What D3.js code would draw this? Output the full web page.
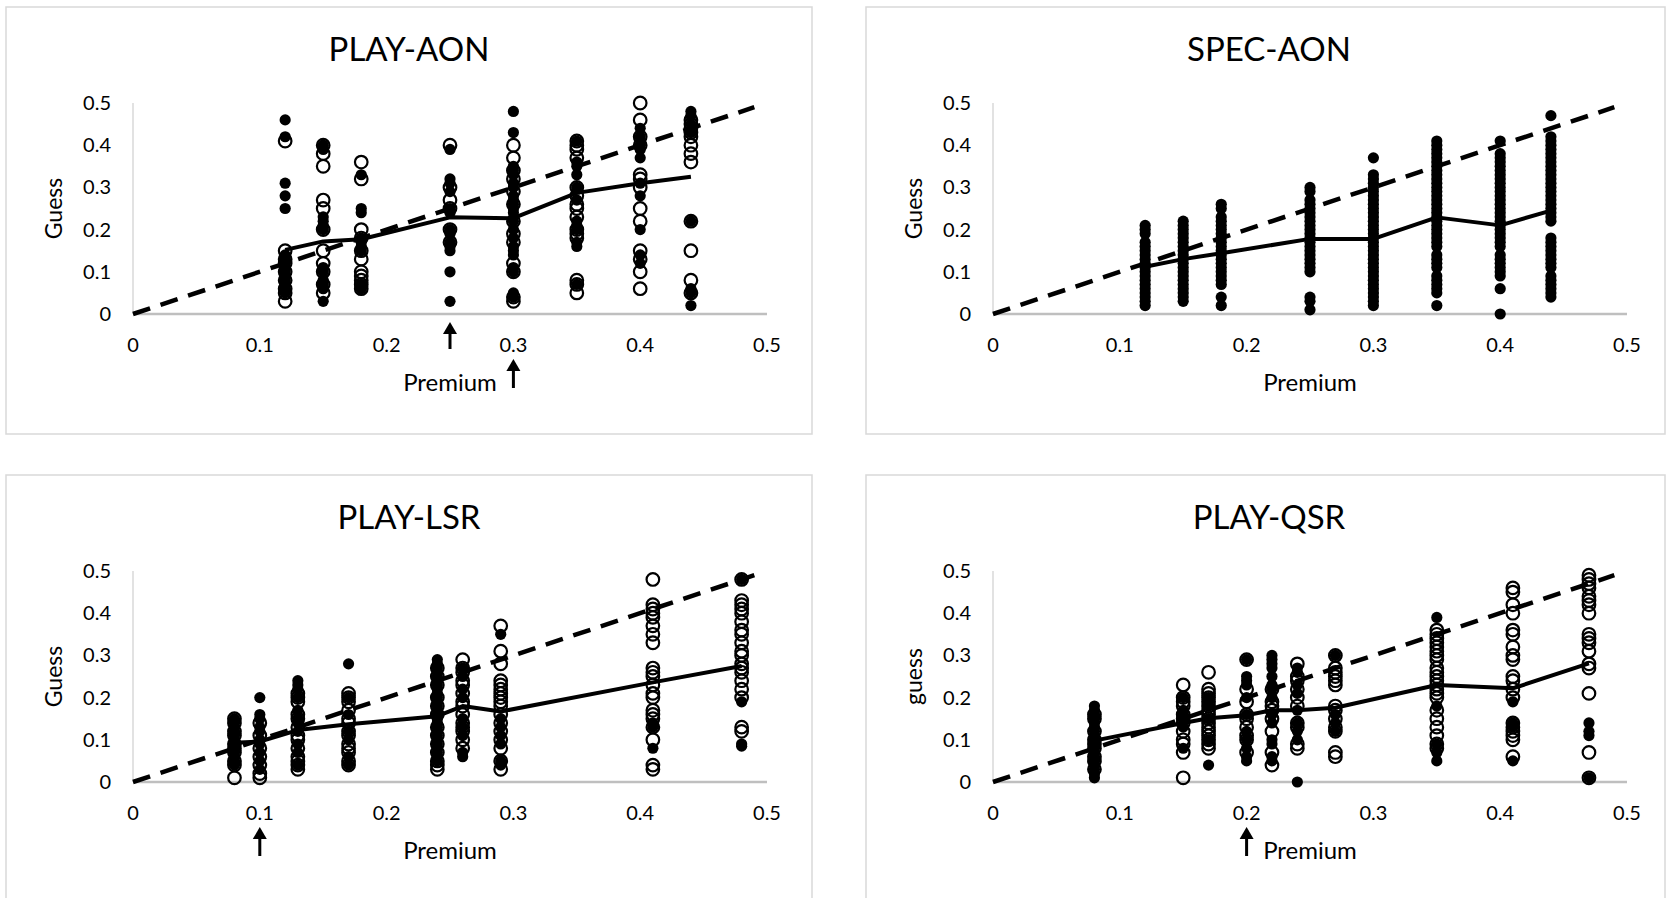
<!DOCTYPE html>
<html>
<head>
<meta charset="utf-8">
<script src="https://cdn.jsdelivr.net/npm/d3@7"></script>
<style>
  html, body { margin: 0; padding: 0; background: #fff; }
  svg { display: block; font-family: Lato, "Open Sans", sans-serif; }
</style>
</head>
<body>
<svg id="chart" width="1669" height="898"></svg>
<script>
// Guess vs premium, four treatments. Filled dots and open circles are the two
// subject groups, the solid line is the mean guess, the dashed line is guess = premium.

const xTicks = [0, 0.1, 0.2, 0.3, 0.4, 0.5];
const yTicks = [0, 0.1, 0.2, 0.3, 0.4, 0.5];
const diagonalEnd = 0.49;

// ----- PLAY-AON -----
const playAonPremiums = [0.12, 0.15, 0.18, 0.25, 0.30, 0.35, 0.40, 0.44];
const playAonFilled = [
  [0.46, 0.42, 0.31, 0.28, 0.25, 0.14, 0.13, 0.12, 0.11, 0.10, 0.09, 0.08, 0.07, 0.06, 0.05],
  [0.40, 0.39, 0.23, 0.22, 0.21, 0.20, 0.11, 0.10, 0.08, 0.07, 0.06, 0.03],
  [0.33, 0.25, 0.24, 0.18, 0.17, 0.16, 0.15, 0.07, 0.06],
  [0.39, 0.32, 0.31, 0.29, 0.25, 0.24, 0.20, 0.19, 0.17, 0.16, 0.15, 0.10, 0.03],
  [0.48, 0.43, 0.35, 0.34, 0.33, 0.31, 0.30, 0.28, 0.27, 0.26, 0.25, 0.24, 0.22, 0.20, 0.18, 0.16, 0.15, 0.14, 0.11, 0.10, 0.05, 0.04],
  [0.41, 0.36, 0.35, 0.33, 0.30, 0.27, 0.22, 0.21, 0.20, 0.17, 0.16, 0.07],
  [0.44, 0.42, 0.40, 0.39, 0.37, 0.31, 0.28, 0.20, 0.14, 0.12],
  [0.48, 0.47, 0.45, 0.43, 0.22, 0.06, 0.05, 0.02]
];
const playAonOpen = [
  [0.41, 0.15, 0.13, 0.12, 0.10, 0.08, 0.06, 0.05, 0.03],
  [0.40, 0.38, 0.35, 0.27, 0.25, 0.20, 0.15, 0.12, 0.10, 0.07, 0.05],
  [0.36, 0.32, 0.20, 0.18, 0.15, 0.13, 0.10, 0.09, 0.08, 0.07, 0.06],
  [0.40, 0.30, 0.27, 0.25, 0.20, 0.17],
  [0.40, 0.37, 0.34, 0.32, 0.29, 0.26, 0.22, 0.19, 0.17, 0.12, 0.10, 0.04, 0.03],
  [0.41, 0.40, 0.39, 0.37, 0.30, 0.28, 0.26, 0.25, 0.23, 0.20, 0.19, 0.18, 0.08, 0.07, 0.05],
  [0.50, 0.46, 0.42, 0.40, 0.33, 0.32, 0.30, 0.25, 0.22, 0.15, 0.13, 0.10, 0.06],
  [0.46, 0.45, 0.44, 0.43, 0.42, 0.40, 0.38, 0.36, 0.22, 0.15, 0.08, 0.05]
];
const playAonMeans = [0.152, 0.172, 0.177, 0.229, 0.227, 0.287, 0.31, 0.325];
const playAonArrows = [0.25, 0.30];

// ----- SPEC-AON (one group only) -----
const specAonPremiums = [0.12, 0.15, 0.18, 0.25, 0.30, 0.35, 0.40, 0.44];
const specAonFilled = [
  [0.21, 0.20, 0.19, 0.17, 0.16, 0.15, 0.14, 0.13, 0.12, 0.11, 0.10, 0.09, 0.08, 0.07, 0.06, 0.05, 0.04, 0.03, 0.02],
  [0.22, 0.21, 0.20, 0.19, 0.18, 0.17, 0.16, 0.15, 0.14, 0.13, 0.12, 0.11, 0.10, 0.09, 0.08, 0.07, 0.06, 0.05, 0.04, 0.03],
  [0.26, 0.25, 0.23, 0.22, 0.21, 0.20, 0.19, 0.18, 0.17, 0.16, 0.15, 0.14, 0.13, 0.12, 0.11, 0.10, 0.09, 0.08, 0.07, 0.04, 0.02],
  [0.30, 0.29, 0.27, 0.26, 0.25, 0.24, 0.23, 0.22, 0.21, 0.20, 0.19, 0.18, 0.17, 0.16, 0.15, 0.14, 0.13, 0.12, 0.11, 0.10, 0.04, 0.03, 0.01],
  [0.37, 0.33, 0.32, 0.31, 0.30, 0.29, 0.28, 0.27, 0.26, 0.25, 0.24, 0.23, 0.22, 0.21, 0.20, 0.19, 0.18, 0.17, 0.16, 0.15, 0.14, 0.13, 0.12, 0.11, 0.10, 0.09, 0.08, 0.07, 0.06, 0.05, 0.04, 0.03, 0.02],
  [0.41, 0.40, 0.39, 0.38, 0.37, 0.36, 0.35, 0.34, 0.33, 0.32, 0.31, 0.30, 0.29, 0.28, 0.27, 0.26, 0.25, 0.24, 0.23, 0.22, 0.21, 0.20, 0.19, 0.18, 0.17, 0.16, 0.14, 0.13, 0.12, 0.11, 0.09, 0.08, 0.07, 0.06, 0.05, 0.02],
  [0.41, 0.38, 0.37, 0.36, 0.35, 0.34, 0.33, 0.32, 0.31, 0.30, 0.29, 0.28, 0.27, 0.26, 0.25, 0.24, 0.23, 0.22, 0.21, 0.20, 0.19, 0.18, 0.17, 0.16, 0.14, 0.13, 0.12, 0.11, 0.10, 0.09, 0.06, 0.00],
  [0.47, 0.42, 0.41, 0.40, 0.39, 0.38, 0.37, 0.36, 0.35, 0.34, 0.33, 0.32, 0.31, 0.30, 0.29, 0.28, 0.27, 0.26, 0.25, 0.24, 0.23, 0.22, 0.18, 0.17, 0.16, 0.15, 0.14, 0.13, 0.12, 0.11, 0.09, 0.08, 0.07, 0.06, 0.05, 0.04]
];
const specAonOpen = [];
const specAonMeans = [0.112, 0.13, 0.144, 0.178, 0.178, 0.229, 0.21, 0.245];
const specAonArrows = [];

// ----- PLAY-LSR -----
const playLsrPremiums = [0.08, 0.10, 0.13, 0.17, 0.24, 0.26, 0.29, 0.41, 0.48];
const playLsrFilled = [
  [0.15, 0.14, 0.13, 0.12, 0.11, 0.10, 0.09, 0.08, 0.07, 0.06, 0.05, 0.04],
  [0.20, 0.16, 0.15, 0.13, 0.12, 0.10, 0.09, 0.07, 0.05, 0.03],
  [0.24, 0.23, 0.22, 0.20, 0.17, 0.15, 0.14, 0.12, 0.09, 0.07, 0.04],
  [0.28, 0.20, 0.16, 0.12, 0.10, 0.06, 0.04],
  [0.29, 0.28, 0.27, 0.26, 0.25, 0.24, 0.23, 0.22, 0.21, 0.20, 0.19, 0.18, 0.17, 0.16, 0.15, 0.14, 0.13, 0.12, 0.11, 0.10, 0.09, 0.08, 0.07, 0.06, 0.05],
  [0.27, 0.25, 0.22, 0.20, 0.15, 0.13, 0.11, 0.07, 0.06],
  [0.35, 0.15, 0.13, 0.11, 0.09, 0.05, 0.04],
  [0.14, 0.13, 0.08],
  [0.48, 0.19, 0.09, 0.085]
];
const playLsrOpen = [
  [0.15, 0.14, 0.12, 0.11, 0.09, 0.08, 0.07, 0.05, 0.04, 0.01],
  [0.14, 0.11, 0.08, 0.06, 0.04, 0.02, 0.01],
  [0.21, 0.20, 0.19, 0.16, 0.15, 0.13, 0.11, 0.10, 0.08, 0.06, 0.05, 0.04, 0.03],
  [0.21, 0.20, 0.19, 0.17, 0.15, 0.14, 0.12, 0.11, 0.09, 0.08, 0.07, 0.05, 0.04],
  [0.27, 0.25, 0.23, 0.20, 0.18, 0.16, 0.13, 0.11, 0.09, 0.07, 0.05, 0.04, 0.03],
  [0.29, 0.27, 0.26, 0.24, 0.23, 0.21, 0.19, 0.18, 0.16, 0.14, 0.13, 0.12, 0.10, 0.08],
  [0.37, 0.31, 0.28, 0.24, 0.23, 0.22, 0.21, 0.20, 0.19, 0.18, 0.16, 0.14, 0.12, 0.10, 0.08, 0.05, 0.03],
  [0.48, 0.42, 0.41, 0.40, 0.39, 0.37, 0.35, 0.33, 0.27, 0.26, 0.25, 0.23, 0.21, 0.20, 0.17, 0.16, 0.15, 0.13, 0.10, 0.04, 0.03],
  [0.48, 0.43, 0.42, 0.41, 0.40, 0.38, 0.36, 0.35, 0.33, 0.31, 0.30, 0.28, 0.27, 0.26, 0.24, 0.22, 0.20, 0.13, 0.12]
];
const playLsrMeans = [0.093, 0.096, 0.123, 0.137, 0.156, 0.18, 0.167, 0.236, 0.275];
const playLsrArrows = [0.10];

// ----- PLAY-QSR -----
const playQsrPremiums = [0.08, 0.15, 0.17, 0.20, 0.22, 0.24, 0.27, 0.35, 0.41, 0.47];
const playQsrFilled = [
  [0.18, 0.17, 0.16, 0.15, 0.14, 0.13, 0.12, 0.11, 0.10, 0.09, 0.08, 0.07, 0.06, 0.05, 0.04, 0.03, 0.02, 0.01],
  [0.20, 0.17, 0.16, 0.15, 0.13, 0.08],
  [0.20, 0.18, 0.15, 0.10, 0.04],
  [0.29, 0.25, 0.24, 0.23, 0.20, 0.16, 0.12, 0.10, 0.08, 0.06, 0.05],
  [0.30, 0.29, 0.28, 0.27, 0.25, 0.23, 0.22, 0.20, 0.16, 0.14, 0.10, 0.09, 0.06, 0.05],
  [0.27, 0.26, 0.23, 0.21, 0.17, 0.14, 0.12, 0.10, 0.00],
  [0.30, 0.16, 0.14, 0.12],
  [0.39, 0.18, 0.09, 0.07, 0.05],
  [0.19, 0.14, 0.13, 0.05],
  [0.14, 0.12, 0.11, 0.01]
];
const playQsrOpen = [
  [0.16, 0.15, 0.12, 0.10, 0.09, 0.08, 0.06, 0.05, 0.03],
  [0.23, 0.20, 0.19, 0.18, 0.16, 0.15, 0.14, 0.12, 0.10, 0.09, 0.07, 0.01],
  [0.26, 0.22, 0.21, 0.20, 0.19, 0.18, 0.17, 0.16, 0.15, 0.14, 0.13, 0.12, 0.11, 0.10, 0.09, 0.08],
  [0.29, 0.22, 0.19, 0.16, 0.15, 0.13, 0.11, 0.10, 0.07],
  [0.22, 0.19, 0.18, 0.17, 0.15, 0.12, 0.07, 0.04],
  [0.28, 0.25, 0.24, 0.22, 0.20, 0.18, 0.14, 0.13, 0.09, 0.08],
  [0.30, 0.27, 0.26, 0.25, 0.24, 0.23, 0.18, 0.17, 0.15, 0.13, 0.12, 0.07, 0.06],
  [0.36, 0.35, 0.34, 0.33, 0.32, 0.31, 0.30, 0.29, 0.27, 0.26, 0.25, 0.24, 0.23, 0.22, 0.21, 0.20, 0.17, 0.15, 0.13, 0.11, 0.09, 0.08],
  [0.46, 0.45, 0.42, 0.40, 0.36, 0.35, 0.32, 0.30, 0.29, 0.25, 0.24, 0.22, 0.20, 0.14, 0.13, 0.12, 0.11, 0.10, 0.06],
  [0.49, 0.48, 0.47, 0.46, 0.44, 0.43, 0.42, 0.40, 0.35, 0.34, 0.33, 0.31, 0.28, 0.27, 0.21, 0.07, 0.01]
];
const playQsrMeans = [0.098, 0.14, 0.151, 0.158, 0.17, 0.17, 0.176, 0.23, 0.222, 0.281];
const playQsrArrows = [0.20];

// Panel layout: left edge of x=0 and top of y=0.5 for each panel.
const PLOT_W = 634, PLOT_H = 211;
const panels = [
  { title: 'PLAY-AON', yLabel: 'Guess', ox: 133, oy: 103, boxW: 806, premiums: playAonPremiums, filled: playAonFilled, open: playAonOpen, means: playAonMeans, arrows: playAonArrows },
  { title: 'SPEC-AON', yLabel: 'Guess', ox: 993, oy: 103, boxW: 799, premiums: specAonPremiums, filled: specAonFilled, open: specAonOpen, means: specAonMeans, arrows: specAonArrows },
  { title: 'PLAY-LSR', yLabel: 'Guess', ox: 133, oy: 571, boxW: 806, premiums: playLsrPremiums, filled: playLsrFilled, open: playLsrOpen, means: playLsrMeans, arrows: playLsrArrows },
  { title: 'PLAY-QSR', yLabel: 'guess', ox: 993, oy: 571, boxW: 799, premiums: playQsrPremiums, filled: playQsrFilled, open: playQsrOpen, means: playQsrMeans, arrows: playQsrArrows }
];

const svg = d3.select('#chart');
svg.append('rect').attr('width', 1669).attr('height', 898).attr('fill', '#fff');

// Arrow positions below the axis: AON's first arrow sits right under the axis,
// the others sit level with the axis title.
function arrowSpan(p, i) {
  if (p.title === 'PLAY-AON' && i === 0) return [35, 8];
  return [74, 45];
}

// flatten columns into {x, y} points
function toPoints(premiums, cols) {
  const pts = [];
  cols.forEach((col, i) => col.forEach(v => pts.push({ x: premiums[i], y: v })));
  return pts;
}

panels.forEach(p => {
  const g = svg.append('g');
  const x = d3.scaleLinear().domain([0, 0.5]).range([p.ox, p.ox + PLOT_W]);
  const y = d3.scaleLinear().domain([0, 0.5]).range([p.oy + PLOT_H, p.oy]);

  // chart frame
  g.append('rect')
    .attr('x', p.ox - 127).attr('y', p.oy - 96)
    .attr('width', p.boxW).attr('height', 427)
    .attr('fill', 'none').attr('stroke', '#d9d9d9').attr('stroke-width', 1.5);

  g.append('text')
    .attr('x', p.ox - 127 + 806 / 2).attr('y', p.oy - 50)
    .attr('text-anchor', 'middle').attr('dominant-baseline', 'middle')
    .attr('font-size', 33).attr('fill', '#000')
    .text(p.title);

  // axes lines
  g.append('line')
    .attr('x1', x(0)).attr('x2', x(0))
    .attr('y1', y(0.5)).attr('y2', y(0))
    .attr('stroke', '#d9d9d9').attr('stroke-width', 1.5);
  g.append('line')
    .attr('x1', x(0)).attr('x2', x(0.5))
    .attr('y1', y(0)).attr('y2', y(0))
    .attr('stroke', '#bfbfbf').attr('stroke-width', 2.5);

  // tick labels
  g.selectAll('.xt').data(xTicks).enter().append('text')
    .attr('x', d => x(d)).attr('y', y(0) + 33)
    .attr('text-anchor', 'middle').attr('dominant-baseline', 'middle')
    .attr('font-size', 20).attr('fill', '#000')
    .text(d => d3.format('')(d));
  g.selectAll('.yt').data(yTicks).enter().append('text')
    .attr('x', x(0) - 22).attr('y', d => y(d) + 2)
    .attr('text-anchor', 'end').attr('dominant-baseline', 'middle')
    .attr('font-size', 20).attr('fill', '#000')
    .text(d => d3.format('')(d));

  // axis titles
  g.append('text')
    .attr('x', x(0.25)).attr('y', y(0) + 71)
    .attr('text-anchor', 'middle').attr('dominant-baseline', 'middle')
    .attr('font-size', 24).attr('fill', '#000')
    .text('Premium');
  g.append('text')
    .attr('transform', `translate(${x(0) - 77},${y(0.25)}) rotate(-90)`)
    .attr('text-anchor', 'middle').attr('dominant-baseline', 'middle')
    .attr('font-size', 23).attr('fill', '#000')
    .text(p.yLabel);

  // data points: filled group, then open circles over them
  g.selectAll('.dot').data(toPoints(p.premiums, p.filled)).enter().append('circle')
    .attr('cx', d => x(d.x)).attr('cy', d => y(d.y))
    .attr('r', 5.6).attr('fill', '#000');
  g.selectAll('.ring').data(toPoints(p.premiums, p.open)).enter().append('circle')
    .attr('cx', d => x(d.x)).attr('cy', d => y(d.y))
    .attr('r', 6.3).attr('fill', 'none').attr('stroke', '#000').attr('stroke-width', 2.2);

  // guess = premium
  g.append('path')
    .datum([0, diagonalEnd])
    .attr('d', d3.line().x(d => x(d)).y(d => y(d)))
    .attr('fill', 'none').attr('stroke', '#000')
    .attr('stroke-width', 4.5).attr('stroke-dasharray', '18,11');

  // mean guess per premium
  g.append('path')
    .datum(p.premiums.map((v, i) => [v, p.means[i]]))
    .attr('d', d3.line().x(d => x(d[0])).y(d => y(d[1])))
    .attr('fill', 'none').attr('stroke', '#000')
    .attr('stroke-width', 4).attr('stroke-linejoin', 'round');

  // arrows under the axis
  p.arrows.forEach((a, i) => {
    const [lo, hi] = arrowSpan(p, i);
    const ax = x(a), y0 = y(0);
    g.append('line')
      .attr('x1', ax).attr('x2', ax)
      .attr('y1', y0 + lo).attr('y2', y0 + hi + 8)
      .attr('stroke', '#000').attr('stroke-width', 3);
    g.append('path')
      .attr('d', `M${ax},${y0 + hi} L${ax - 7},${y0 + hi + 12} L${ax + 7},${y0 + hi + 12} Z`)
      .attr('fill', '#000');
  });
});
</script>
</body>
</html>
